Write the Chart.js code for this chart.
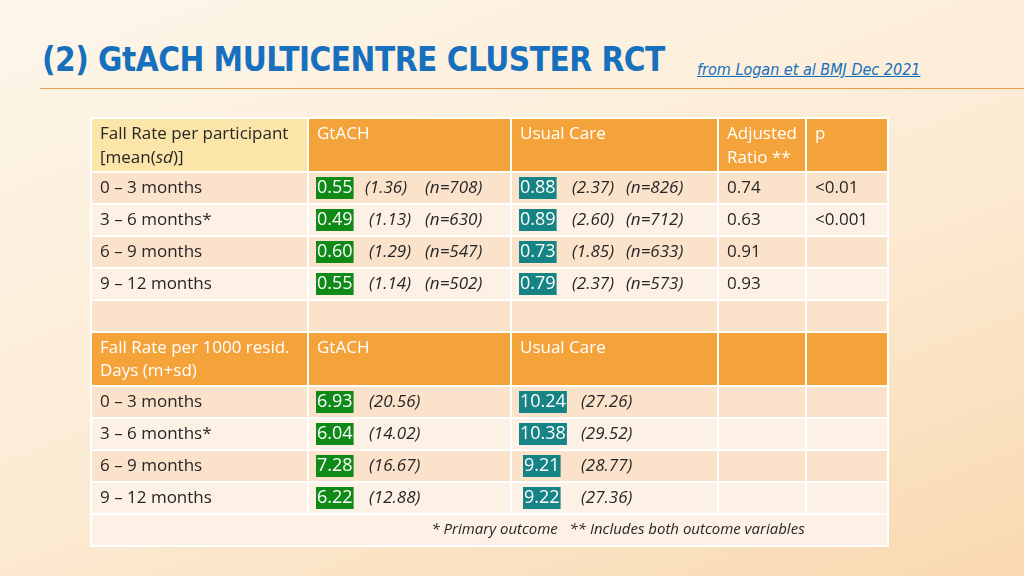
<!DOCTYPE html>
<html><head><meta charset="utf-8">
<script src="https://cdn.jsdelivr.net/npm/chart.js@4/dist/chart.umd.min.js"></script>
<style>
html,body{margin:0;width:1024px;height:576px;overflow:hidden;
 background:linear-gradient(160deg,#fdf6ea 0%,#fcebd4 55%,#f9d9b0 100%);font-family:"Open Sans",sans-serif}
#title{position:absolute;left:42px;top:40px;font-family:"DejaVu Sans Condensed","Liberation Sans Narrow",sans-serif;font-weight:bold;font-size:33px;color:#1670bd;letter-spacing:-0.5px}
#src{position:absolute;left:697px;top:60px;font-family:"DejaVu Sans Condensed",sans-serif;font-style:italic;font-size:16px;color:#1670bd;text-decoration:underline}
#rule{position:absolute;left:40px;right:0;top:88px;height:1px;background:#e8a050}
#wrap{position:absolute;left:0;top:0;width:1024px;height:576px}
</style></head><body>
<div id="title">(2) GtACH MULTICENTRE CLUSTER RCT</div>
<div id="src">from Logan et al BMJ Dec 2021</div>
<div id="rule"></div>
<div id="wrap"><canvas id="c"></canvas></div>
<script>
const periods = ['0 – 3 months', '3 – 6 months*', '6 – 9 months', '9 – 12 months'];
const gtMean1 = ['0.55', '0.49', '0.60', '0.55'];
const gtSd1 = ['(1.36)', '(1.13)', '(1.29)', '(1.14)'];
const gtN1 = ['(n=708)', '(n=630)', '(n=547)', '(n=502)'];
const ucMean1 = ['0.88', '0.89', '0.73', '0.79'];
const ucSd1 = ['(2.37)', '(2.60)', '(1.85)', '(2.37)'];
const ucN1 = ['(n=826)', '(n=712)', '(n=633)', '(n=573)'];
const ratio1 = ['0.74', '0.63', '0.91', '0.93'];
const pVals = ['<0.01', '<0.001', '', ''];
const gtMean2 = ['6.93', '6.04', '7.28', '6.22'];
const gtSd2 = ['(20.56)', '(14.02)', '(16.67)', '(12.88)'];
const ucMean2 = ['10.24', '10.38', '9.21', '9.22'];
const ucSd2 = ['(27.26)', '(29.52)', '(28.77)', '(27.36)'];
const footnote = '* Primary outcome   ** Includes both outcome variables';

// table units: x 0..797, y 0..428 (top down)
const colEdges = [0, 217, 420, 627, 715, 797];
const rowEdges = [0, 54, 86, 118, 150, 182, 214, 268, 300, 332, 364, 396, 428];
const ORANGE = '#f3a33a', DARK = '#fbe2cb', LIGHT = '#fdf0e4', HEAD1 = '#fbe5a8';

const tablePlugin = {
  id: 'table',
  afterDraw(chart) {
    const {ctx, scales: {x, y}} = chart;
    const X = v => x.getPixelForValue(v), Y = v => y.getPixelForValue(v);
    const cell = (c0, c1, r, fill) => {
      ctx.fillStyle = fill;
      ctx.fillRect(X(colEdges[c0]), Y(rowEdges[r]), X(colEdges[c1]) - X(colEdges[c0]), Y(rowEdges[r + 1]) - Y(rowEdges[r]));
    };
    const rowFill = r => (r === 0 || r === 6) ? ORANGE : (r % 2 === 1 ? DARK : LIGHT);
    for (let r = 0; r < 12; r++) {
      if (r === 11) { cell(0, 5, r, LIGHT); continue; }
      for (let c = 0; c < 5; c++) cell(c, c + 1, r, (r === 0 && c === 0) ? HEAD1 : rowFill(r));
    }
    ctx.strokeStyle = '#ffffff'; ctx.lineWidth = 2;
    for (let r = 1; r < 12; r++) { ctx.beginPath(); ctx.moveTo(X(0), Y(rowEdges[r])); ctx.lineTo(X(797), Y(rowEdges[r])); ctx.stroke(); }
    for (let c = 1; c < 5; c++) { ctx.beginPath(); ctx.moveTo(X(colEdges[c]), Y(0)); ctx.lineTo(X(colEdges[c]), Y(rowEdges[11])); ctx.stroke(); }
    ctx.strokeRect(X(0), Y(0), X(797) - X(0), Y(428) - Y(0));

    ctx.textBaseline = 'middle';
    const txt = (s, px, py, col, font) => { ctx.fillStyle = col || '#262626'; ctx.font = font || '17px "Open Sans"'; ctx.fillText(s, px, py); return ctx.measureText(s).width; };
    const ital = 'italic 17px "Open Sans"';
    const box = (s, px, py, bg) => {
      ctx.font = '18px "Open Sans"';
      const w = ctx.measureText(s).width;
      ctx.fillStyle = bg; ctx.fillRect(px - 1, py - 11, w + 2, 22);
      txt(s, px, py, '#ffffff', '18px "Open Sans"');
    };
    const W = '#ffffff';
    // header 1
    txt('Fall Rate per participant', X(9), Y(16), '#262626');
    let w = txt('[mean(', X(9), Y(40));
    w += txt('sd', X(9) + w, Y(40), '#262626', ital);
    txt(')]', X(9) + w, Y(40));
    txt('GtACH', X(226), Y(16), W);
    txt('Usual Care', X(429), Y(16), W);
    txt('Adjusted', X(636), Y(16), W);
    txt('Ratio **', X(636), Y(40), W);
    txt('p', X(724), Y(16), W);
    for (let i = 0; i < 4; i++) {
      const cy = Y((rowEdges[i + 1] + rowEdges[i + 2]) / 2);
      txt(periods[i], X(9), cy);
      box(gtMean1[i], X(226), cy, '#0f8a17');
      txt(gtSd1[i], X(i === 0 ? 274 : 278), cy, null, ital);
      txt(gtN1[i], X(334), cy, null, ital);
      box(ucMean1[i], X(429), cy, '#168484');
      txt(ucSd1[i], X(481), cy, null, ital);
      txt(ucN1[i], X(535), cy, null, ital);
      txt(ratio1[i], X(636), cy);
      txt(pVals[i], X(724), cy);
    }
    // header 2
    txt('Fall Rate per 1000 resid.', X(9), Y(230), W);
    txt('Days (m+sd)', X(9), Y(253), W);
    txt('GtACH', X(226), Y(230), W);
    txt('Usual Care', X(429), Y(230), W);
    for (let i = 0; i < 4; i++) {
      const cy = Y((rowEdges[i + 7] + rowEdges[i + 8]) / 2);
      txt(periods[i], X(9), cy);
      box(gtMean2[i], X(226), cy, '#0f8a17');
      txt(gtSd2[i], X(278), cy, null, ital);
      box(ucMean2[i], X(ucMean2[i].length > 4 ? 429 : 433), cy, '#168484');
      txt(ucSd2[i], X(490), cy, null, ital);
    }
    ctx.textAlign = 'center';
    txt(footnote, X(527), Y(412), '#262626', 'italic 15px "Open Sans"');
    ctx.textAlign = 'left';
  }
};

new Chart(document.getElementById('c'), {
  type: 'scatter',
  data: { datasets: [{ data: [], pointRadius: 0 }] },
  options: {
    responsive: true, maintainAspectRatio: false, animation: false,
    layout: { padding: { left: 91, right: 1024 - 888, top: 118, bottom: 576 - 546 } },
    plugins: { legend: { display: false }, tooltip: { enabled: false } },
    scales: {
      x: { type: 'linear', min: 0, max: 797, display: false },
      y: { type: 'linear', min: 0, max: 428, reverse: true, display: false }
    }
  },
  plugins: [tablePlugin]
});
</script>
</body></html>
